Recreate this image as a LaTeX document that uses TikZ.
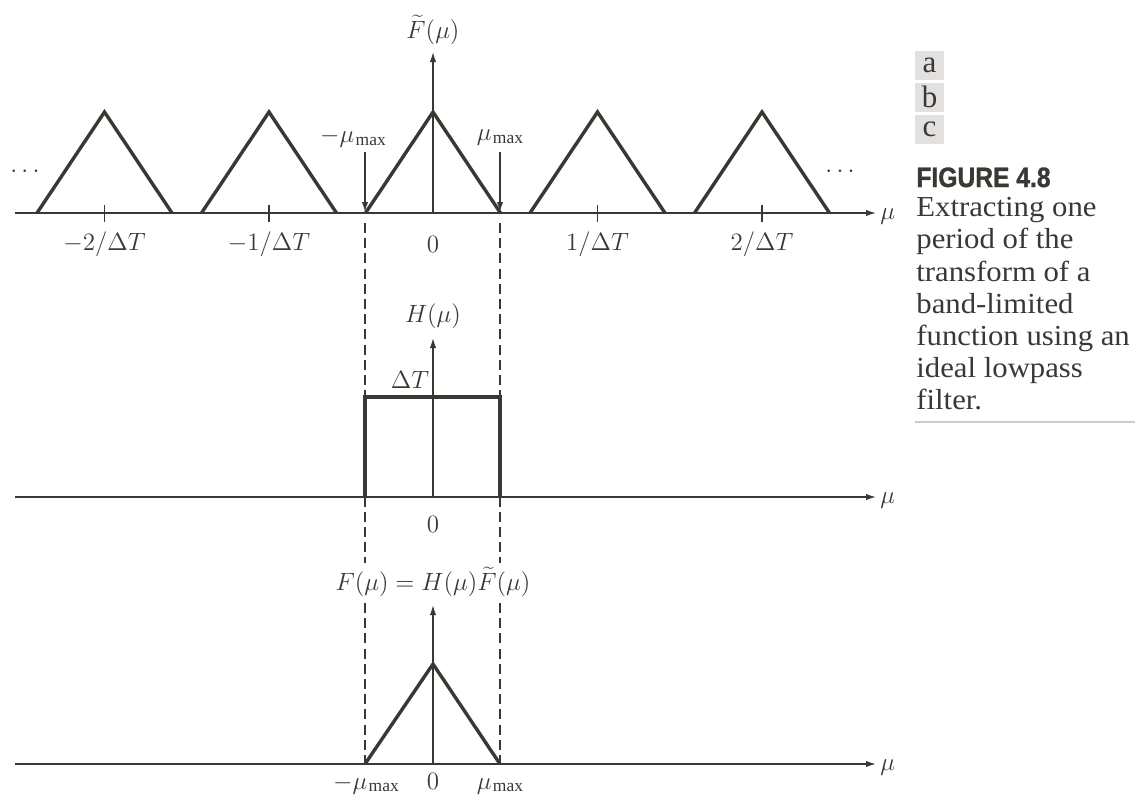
\documentclass[tikz,border=0pt]{standalone}
\usepackage{fix-cm}
\usepackage{fontspec}
\setmainfont{Liberation Serif}
\newfontfamily\figfont[FakeStretch=0.88,FakeBold=1.2]{Liberation Sans}
\newfontface\capfont[FakeStretch=1.06]{Liberation Serif}
\usetikzlibrary{arrows.meta}
\definecolor{ink}{HTML}{3B3733}
\definecolor{boxgray}{HTML}{E2E1E0}
\definecolor{rulegray}{HTML}{CCCCCC}
\newcommand{\mmaxlab}{\mu\mkern1mu\raisebox{-1.2pt}{$\scriptstyle\max$}}
\begin{document}
\begin{tikzpicture}[x=0.5pt,y=-0.5pt,
  axisline/.style={draw=ink,line width=0.7pt,-{Latex[length=5pt,width=3.2pt]}},
  curve/.style={draw=ink,line width=1.7pt,line join=miter},
  guide/.style={draw=ink,line width=0.6pt,dash pattern=on 5pt off 2.6pt},
  tickmark/.style={draw=ink,line width=0.6pt},
  lab/.style={text=ink,font=\fontsize{12.5}{15}\selectfont,inner sep=0pt},
  letterbox/.style={fill=boxgray,text=ink,minimum width=14.5pt,minimum height=14.5pt,inner sep=0pt,font=\fontsize{15.5}{16}\selectfont}]
\useasboundingbox (0,0) rectangle (1135,794);

% ---------- panel a ----------
\coordinate (a0) at (15,213);
\coordinate (a1) at (876,213);
\draw[axisline] (a0) -- (a1);
\node[lab,anchor=west] (amu) at (880,217) {$\mu$};
\coordinate (av0) at (433,213);
\coordinate (av1) at (433,52);
\draw[axisline] (av0) -- (av1);
\node[lab] (aF) at (433,30) {$\widetilde{F}(\mu)$};
\foreach \c in {104.5,269,433,597.5,762}{
  \draw[curve] (\c-67.5,213) -- (\c,112) -- (\c+67.5,213);
}
\foreach \c in {104.5,269,597.5,762}{
  \draw[tickmark] (\c,205) -- (\c,222);
}
\node[lab] (t1) at (104.5,244) {$-2/\Delta T$};
\node[lab] (t2) at (269,244) {$-1/\Delta T$};
\node[lab] (t3) at (433,244) {$0$};
\node[lab] (t4) at (597.5,244) {$1/\Delta T$};
\node[lab] (t5) at (762,244) {$2/\Delta T$};
\node[lab] (dl) at (25,172) {$\cdots$};
\node[lab] (dr) at (840,172) {$\cdots$};
\node[lab] (mL) at (353,138) {$-\mmaxlab$};
\node[lab] (mR) at (500,138) {$\mmaxlab$};
\coordinate (pL0) at (365,152);
\coordinate (pL1) at (365,212);
\coordinate (pR0) at (500,152);
\coordinate (pR1) at (500,212);
\draw[axisline] (pL0) -- (pL1);
\draw[axisline] (pR0) -- (pR1);

% ---------- dashed guides ----------
\coordinate (gL0) at (365,223);
\coordinate (gR0) at (500,223);
\coordinate (gLa) at (365,563);
\coordinate (gRa) at (500,563);
\coordinate (gLb) at (365,603);
\coordinate (gRb) at (500,603);
\coordinate (gL1) at (365,765);
\coordinate (gR1) at (500,765);
\draw[guide] (gL0) -- (gLa);
\draw[guide] (gR0) -- (gRa);
\draw[guide] (gLb) -- (gL1);
\draw[guide] (gRb) -- (gR1);

% ---------- panel b ----------
\coordinate (b0) at (15,497);
\coordinate (b1) at (876,497);
\draw[axisline] (b0) -- (b1);
\node[lab,anchor=west] (bmu) at (880,501) {$\mu$};
\coordinate (bv0) at (433,497);
\coordinate (bv1) at (433,338);
\draw[axisline] (bv0) -- (bv1);
\node[lab] (bH) at (433,316) {$H(\mu)$};
\draw[curve] (365,497) -- (365,397) -- (500,397) -- (500,497);
\node[lab] (bdT) at (410,380) {$\Delta T$};
\node[lab] (b0l) at (433,524) {$0$};

% ---------- panel c ----------
\node[lab] (cF) at (433,582) {$F(\mu)=H(\mu)\widetilde{F}(\mu)$};
\coordinate (c0) at (15,764);
\coordinate (c1) at (876,764);
\draw[axisline] (c0) -- (c1);
\node[lab,anchor=west] (cmu) at (880,768) {$\mu$};
\coordinate (cv0) at (433,764);
\coordinate (cv1) at (433,605);
\draw[axisline] (cv0) -- (cv1);
\draw[curve] (365,764) -- (433,664) -- (500,764);
\node[lab,anchor=base] (cl1) at (366,789) {$-\mmaxlab$};
\node[lab,anchor=base] (cl2) at (433,789) {$0$};
\node[lab,anchor=base] (cl3) at (500,789) {$\mmaxlab$};

% ---------- caption ----------
\node[letterbox] (ba) at (929.5,65) {a};
\node[letterbox] (bb) at (929.5,97) {b};
\node[letterbox] (bc) at (929.5,129.5) {c};
\node[anchor=base west,inner sep=0pt,text=ink,font=\fontsize{14}{15}\figfont\bfseries] (fig) at (916,187) {FIGURE 4.8};
\node[anchor=north west,inner sep=0pt,text=ink,align=left,font=\fontsize{14.5}{16.1}\capfont] (cap) at (916,197)
  {Extracting one\\period of the\\transform of a\\band-limited\\function using an\\ideal lowpass\\filter.};
\coordinate (r0) at (915,422);
\coordinate (r1) at (1135,422);
\draw[rulegray,line width=0.6pt] (r0) -- (r1);
\end{tikzpicture}
\end{document}
